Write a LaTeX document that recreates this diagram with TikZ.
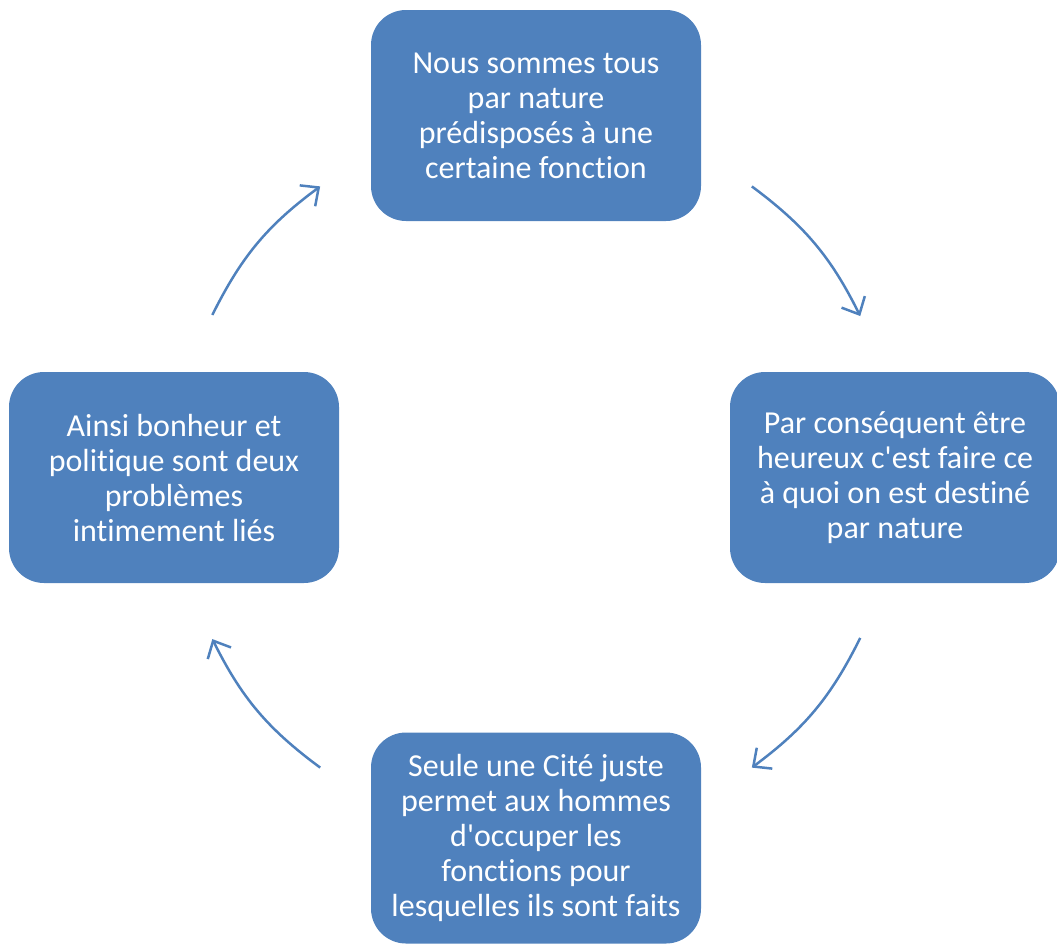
\documentclass[tikz,border=0pt]{standalone}
\usepackage{fontspec}
\setmainfont[Ligatures=NoCommon]{Carlito}
\usetikzlibrary{positioning,arrows.meta}
\definecolor{boxblue}{HTML}{4F81BD}

\tikzset{
  stage/.style={rectangle, rounded corners=35pt, fill=boxblue, text=white,
    minimum width=330pt, minimum height=211pt, align=center,
    font=\fontsize{32pt}{35pt}\selectfont},
  cycarrow/.style={draw=boxblue, line width=2.5pt,
    -{Straight Barb[length=14pt,width=26pt]}}
}

\begin{document}
\begin{tikzpicture}[on grid]
\useasboundingbox (0pt,0pt) rectangle (1057pt,-943pt);

\node[stage] (s_top) at (536pt,-115.5pt) {Nous sommes tous\\par nature\\prédisposés à une\\certaine fonction};
\node[stage] (s_right) [below right=362pt and 359pt of s_top] {Par conséquent être\\heureux c\textquotesingle est faire ce\\à quoi on est destiné\\par nature};
\node[stage] (s_bottom) [below=722.5pt of s_top] {Seule une Cité juste\\permet aux hommes\\d\textquotesingle occuper les\\fonctions pour\\lesquelles ils sont faits};
\node[stage] (s_left) [below left=362pt and 362pt of s_top] {Ainsi bonheur et\\politique sont deux\\problèmes\\intimement liés};

% ends of the arcs, on a circle round the middle
\coordinate (mid) at (536pt,-477pt);
\path (mid) ++(53.4:362pt)  coordinate (tr_a)
      (mid) ++(26.4:362pt)  coordinate (tr_b)
      (mid) ++(-26.4:362pt) coordinate (br_a)
      (mid) ++(-53.4:362pt) coordinate (br_b)
      (mid) ++(233.4:362pt) coordinate (bl_a)
      (mid) ++(206.6:362pt) coordinate (bl_b)
      (mid) ++(153.4:362pt) coordinate (tl_a)
      (mid) ++(126.6:362pt) coordinate (tl_b);

\path
(tr_a) edge [cycarrow, bend left=13.5] (tr_b)
(br_a) edge [cycarrow, bend left=13.5] (br_b)
(bl_a) edge [cycarrow, bend left=13.5] (bl_b)
(tl_a) edge [cycarrow, bend left=13.5] (tl_b)
; %end path
\end{tikzpicture}
\end{document}
